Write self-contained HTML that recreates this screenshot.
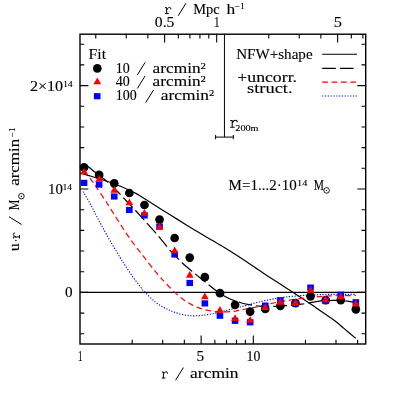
<!DOCTYPE html>
<html><head><meta charset="utf-8"><title>plot</title>
<style>html,body{margin:0;padding:0;background:#fff;}svg{display:block;}text{font-family:"Liberation Serif",serif;fill:#000;}</style>
</head><body>
<svg width="399" height="399" viewBox="0 0 399 399">
<rect x="0" y="0" width="399" height="399" fill="#fff"/>
<line x1="80.00" y1="292.40" x2="365.70" y2="292.40" stroke="#000" stroke-width="1.1"/>
<path d="M80.00 173.30 C80.67 173.45 81.50 173.50 84.00 174.20 C86.50 174.90 91.83 176.53 95.00 177.50 C98.17 178.47 100.50 179.20 103.00 180.00 C105.50 180.80 107.33 181.35 110.00 182.30 C112.67 183.25 116.50 184.72 119.00 185.70 C121.50 186.68 122.50 187.07 125.00 188.20 C127.50 189.33 131.58 191.28 134.00 192.50 C136.42 193.72 136.42 193.62 139.50 195.50 C142.58 197.38 147.40 200.58 152.50 203.80 C157.60 207.02 164.25 211.15 170.10 214.80 C175.95 218.45 183.45 223.13 187.60 225.70 C191.75 228.27 192.22 228.52 195.00 230.20 C197.78 231.88 201.38 234.08 204.30 235.80 C207.22 237.52 208.20 237.98 212.50 240.50 C216.80 243.02 224.25 247.25 230.10 250.90 C235.95 254.55 242.95 259.28 247.60 262.40 C252.25 265.52 255.22 267.70 258.00 269.60 C260.78 271.50 262.30 272.48 264.30 273.80 C266.30 275.12 266.53 275.27 270.00 277.50 C273.47 279.73 280.08 283.93 285.10 287.20 C290.12 290.47 295.22 293.87 300.10 297.10 C304.98 300.33 311.50 304.67 314.40 306.60 C317.30 308.53 314.05 306.32 317.50 308.70 C320.95 311.08 330.70 317.62 335.10 320.90 C339.50 324.18 340.45 325.48 343.90 328.40 C347.35 331.32 353.82 336.73 355.80 338.40" fill="none" stroke="#000" stroke-width="1.2"/>
<path d="M84.00 164.00 C84.67 164.43 86.13 165.22 88.00 166.60 C89.87 167.98 93.32 170.85 95.20 172.30 C97.08 173.75 98.62 174.80 99.30 175.30" fill="none" stroke="#000" stroke-width="1.2"/>
<path d="M99.30 175.30 C99.92 175.80 101.88 177.42 103.00 178.30 C104.12 179.18 104.50 179.32 106.00 180.60 C107.50 181.88 110.00 184.10 112.00 186.00 C114.00 187.90 116.17 190.12 118.00 192.00 C119.83 193.88 121.50 195.72 123.00 197.30 C124.50 198.88 124.92 199.30 127.00 201.50 C129.08 203.70 133.17 208.00 135.50 210.50 C137.83 213.00 139.15 214.45 141.00 216.50 C142.85 218.55 144.03 219.92 146.60 222.80 C149.17 225.68 153.67 230.65 156.40 233.80 C159.13 236.95 160.72 238.95 163.00 241.70 C165.28 244.45 166.87 246.75 170.10 250.30 C173.33 253.85 178.32 259.15 182.40 263.00 C186.48 266.85 190.87 270.30 194.60 273.40 C198.33 276.50 201.30 278.78 204.80 281.60 C208.30 284.42 211.73 287.57 215.60 290.30 C219.47 293.03 223.93 295.97 228.00 298.00 C232.07 300.03 236.23 301.35 240.00 302.50 C243.77 303.65 247.33 304.30 250.60 304.90 C253.87 305.50 255.87 305.85 259.60 306.10 C263.33 306.35 268.00 306.52 273.00 306.40 C278.00 306.28 284.83 305.77 289.60 305.40 C294.37 305.03 298.12 304.67 301.60 304.20 C305.08 303.73 307.27 303.15 310.50 302.60 C313.73 302.05 316.92 301.28 321.00 300.90 C325.08 300.52 330.60 300.25 335.00 300.30 C339.40 300.35 343.93 300.80 347.40 301.20 C350.87 301.60 354.40 302.45 355.80 302.70" fill="none" stroke="#000" stroke-width="1.2" stroke-dasharray="13.4 4.1" stroke-dashoffset="2.26"/>
<path d="M80.00 166.00 C80.67 166.80 82.47 168.93 84.00 170.80 C85.53 172.67 87.72 175.32 89.20 177.20 C90.68 179.08 91.85 180.63 92.90 182.10 C93.95 183.57 94.32 184.27 95.50 186.00 C96.68 187.73 98.42 190.17 100.00 192.50 C101.58 194.83 103.83 198.25 105.00 200.00 C106.17 201.75 105.73 201.00 107.00 203.00 C108.27 205.00 110.43 208.55 112.60 212.00 C114.77 215.45 117.50 219.82 120.00 223.70 C122.50 227.58 125.08 231.65 127.60 235.30 C130.12 238.95 133.15 242.98 135.10 245.60 C137.05 248.22 138.05 249.38 139.30 251.00 C140.55 252.62 141.22 253.52 142.60 255.30 C143.98 257.08 145.52 259.05 147.60 261.70 C149.68 264.35 153.03 268.67 155.10 271.20 C157.17 273.73 158.75 275.47 160.00 276.90 C161.25 278.33 161.35 278.45 162.60 279.80 C163.85 281.15 165.43 282.87 167.50 285.00 C169.57 287.13 172.48 290.27 175.00 292.60 C177.52 294.93 180.08 297.13 182.60 299.00 C185.12 300.87 187.60 302.40 190.10 303.80 C192.60 305.20 195.10 306.40 197.60 307.40 C200.10 308.40 202.60 309.17 205.10 309.80 C207.60 310.43 210.47 310.88 212.60 311.20 C214.73 311.52 216.33 311.58 217.90 311.70 C219.47 311.82 219.57 311.95 222.00 311.90 C224.43 311.85 229.50 311.68 232.50 311.40 C235.50 311.12 236.25 310.88 240.00 310.20 C243.75 309.52 250.00 308.37 255.00 307.30 C260.00 306.23 265.00 304.88 270.00 303.80 C275.00 302.72 280.00 301.67 285.00 300.80 C290.00 299.93 295.23 299.22 300.00 298.60 C304.77 297.98 308.60 297.55 313.60 297.10 C318.60 296.65 322.97 296.17 330.00 295.90 C337.03 295.63 351.50 295.57 355.80 295.50" fill="none" stroke="#ff0000" stroke-width="1.2" stroke-dasharray="5.8 3.6" stroke-dashoffset="3.4"/>
<path d="M83.50 192.30 C83.57 192.42 82.67 190.88 83.90 193.00 C85.13 195.12 88.62 200.83 90.90 205.00 C93.18 209.17 95.25 213.53 97.60 218.00 C99.95 222.47 102.50 227.28 105.00 231.80 C107.50 236.32 110.10 240.83 112.60 245.10 C115.10 249.37 117.93 254.03 120.00 257.40 C122.07 260.77 122.90 262.12 125.00 265.30 C127.10 268.48 130.08 272.97 132.60 276.50 C135.12 280.03 137.98 283.82 140.10 286.50 C142.22 289.18 142.80 290.03 145.30 292.60 C147.80 295.17 152.22 299.52 155.10 301.90 C157.98 304.28 160.22 305.52 162.60 306.90 C164.98 308.28 167.33 309.28 169.40 310.20 C171.47 311.12 172.80 311.67 175.00 312.40 C177.20 313.13 180.08 314.05 182.60 314.60 C185.12 315.15 187.60 315.52 190.10 315.70 C192.60 315.88 195.10 315.82 197.60 315.70 C200.10 315.58 202.60 315.33 205.10 315.00 C207.60 314.67 209.28 314.40 212.60 313.70 C215.92 313.00 220.43 311.92 225.00 310.80 C229.57 309.68 234.98 308.30 240.00 307.00 C245.02 305.70 250.93 304.07 255.10 303.00 C259.27 301.93 261.68 301.33 265.00 300.60 C268.32 299.87 271.67 299.18 275.00 298.60 C278.33 298.02 280.83 297.58 285.00 297.10 C289.17 296.62 295.23 296.05 300.00 295.70 C304.77 295.35 308.60 295.22 313.60 295.00 C318.60 294.78 322.97 294.52 330.00 294.40 C337.03 294.28 351.50 294.32 355.80 294.30" fill="none" stroke="#0000ff" stroke-width="1.15" stroke-dasharray="1.2 1.6"/>
<path d="M224.45 34.20 V137.1 M215.6 137.1 H233.3 M215.6 135 V139.3 M233.3 135 V139.3" fill="none" stroke="#000" stroke-width="1.0"/>
<line x1="322.2" y1="54.3" x2="357" y2="54.3" stroke="#000" stroke-width="1.1"/>
<line x1="322.2" y1="68.4" x2="357.8" y2="68.4" stroke="#000" stroke-width="1.1" stroke-dasharray="13.6 4.1"/>
<line x1="322.2" y1="82.1" x2="357" y2="82.1" stroke="#ff0000" stroke-width="1.1" stroke-dasharray="5.7 3.7"/>
<line x1="322.2" y1="96" x2="357" y2="96" stroke="#0000ff" stroke-width="1.15" stroke-dasharray="1.2 1.6"/>
<circle cx="84.05" cy="167.40" r="4.35" fill="#000"/>
<circle cx="99.15" cy="174.90" r="4.35" fill="#000"/>
<circle cx="114.25" cy="183.30" r="4.35" fill="#000"/>
<circle cx="129.35" cy="193.00" r="4.35" fill="#000"/>
<circle cx="144.45" cy="205.00" r="4.35" fill="#000"/>
<circle cx="159.55" cy="219.60" r="4.35" fill="#000"/>
<circle cx="174.65" cy="238.00" r="4.35" fill="#000"/>
<circle cx="189.75" cy="257.60" r="4.35" fill="#000"/>
<circle cx="204.85" cy="277.20" r="4.35" fill="#000"/>
<circle cx="219.95" cy="293.20" r="4.35" fill="#000"/>
<circle cx="235.05" cy="304.80" r="4.35" fill="#000"/>
<circle cx="250.15" cy="311.60" r="4.35" fill="#000"/>
<circle cx="265.25" cy="309.00" r="4.35" fill="#000"/>
<circle cx="280.35" cy="305.80" r="4.35" fill="#000"/>
<circle cx="295.45" cy="303.10" r="4.35" fill="#000"/>
<circle cx="310.55" cy="296.30" r="4.35" fill="#000"/>
<circle cx="325.65" cy="300.20" r="4.35" fill="#000"/>
<circle cx="340.75" cy="300.10" r="4.35" fill="#000"/>
<circle cx="355.85" cy="309.30" r="4.35" fill="#000"/>
<rect x="80.75" y="179.80" width="6.60" height="6.20" fill="#0000ff"/>
<rect x="95.85" y="181.50" width="6.60" height="6.20" fill="#0000ff"/>
<rect x="110.95" y="193.40" width="6.60" height="6.20" fill="#0000ff"/>
<rect x="126.05" y="206.90" width="6.60" height="6.20" fill="#0000ff"/>
<rect x="141.15" y="212.30" width="6.60" height="6.20" fill="#0000ff"/>
<rect x="156.25" y="223.50" width="6.60" height="6.20" fill="#0000ff"/>
<rect x="171.35" y="251.40" width="6.60" height="6.20" fill="#0000ff"/>
<rect x="186.45" y="279.90" width="6.60" height="6.20" fill="#0000ff"/>
<rect x="201.55" y="300.30" width="6.60" height="6.20" fill="#0000ff"/>
<rect x="216.65" y="312.60" width="6.60" height="6.20" fill="#0000ff"/>
<rect x="231.75" y="317.70" width="6.60" height="6.20" fill="#0000ff"/>
<rect x="246.85" y="319.20" width="6.60" height="6.20" fill="#0000ff"/>
<rect x="261.95" y="302.50" width="6.60" height="6.20" fill="#0000ff"/>
<rect x="277.05" y="297.20" width="6.60" height="6.20" fill="#0000ff"/>
<rect x="292.15" y="300.40" width="6.60" height="6.20" fill="#0000ff"/>
<rect x="307.25" y="284.50" width="6.60" height="6.20" fill="#0000ff"/>
<rect x="322.35" y="297.90" width="6.60" height="6.20" fill="#0000ff"/>
<rect x="337.45" y="291.60" width="6.60" height="6.20" fill="#0000ff"/>
<rect x="352.55" y="299.20" width="6.60" height="6.20" fill="#0000ff"/>
<path d="M84.05 167.40 L87.90 174.20 L80.20 174.20 Z" fill="#ff0000"/>
<path d="M99.15 175.00 L103.00 181.80 L95.30 181.80 Z" fill="#ff0000"/>
<path d="M114.25 186.00 L118.10 192.80 L110.40 192.80 Z" fill="#ff0000"/>
<path d="M129.35 198.40 L133.20 205.20 L125.50 205.20 Z" fill="#ff0000"/>
<path d="M144.45 209.00 L148.30 215.80 L140.60 215.80 Z" fill="#ff0000"/>
<path d="M159.55 222.70 L163.40 229.50 L155.70 229.50 Z" fill="#ff0000"/>
<path d="M174.65 246.40 L178.50 253.20 L170.80 253.20 Z" fill="#ff0000"/>
<path d="M189.75 271.00 L193.60 277.80 L185.90 277.80 Z" fill="#ff0000"/>
<path d="M204.85 292.40 L208.70 299.20 L201.00 299.20 Z" fill="#ff0000"/>
<path d="M219.95 306.00 L223.80 312.80 L216.10 312.80 Z" fill="#ff0000"/>
<path d="M235.05 314.20 L238.90 321.00 L231.20 321.00 Z" fill="#ff0000"/>
<path d="M250.15 316.00 L254.00 322.80 L246.30 322.80 Z" fill="#ff0000"/>
<path d="M265.25 303.30 L269.10 310.10 L261.40 310.10 Z" fill="#ff0000"/>
<path d="M280.35 298.00 L284.20 304.80 L276.50 304.80 Z" fill="#ff0000"/>
<path d="M295.45 298.60 L299.30 305.40 L291.60 305.40 Z" fill="#ff0000"/>
<path d="M310.55 286.00 L314.40 292.80 L306.70 292.80 Z" fill="#ff0000"/>
<path d="M325.65 295.40 L329.50 302.20 L321.80 302.20 Z" fill="#ff0000"/>
<path d="M340.75 292.40 L344.60 299.20 L336.90 299.20 Z" fill="#ff0000"/>
<path d="M355.85 299.80 L359.70 306.60 L352.00 306.60 Z" fill="#ff0000"/>
<circle cx="97.3" cy="68.4" r="4.35" fill="#000"/>
<path d="M97.3 77.6 L101.15 84.3 L93.45 84.3 Z" fill="#ff0000"/>
<rect x="93.90" y="93.1" width="6.6" height="6.2" fill="#0000ff"/>
<rect x="80.00" y="34.20" width="285.70" height="309.80" fill="none" stroke="#000" stroke-width="1.40"/>
<path d="M132.17 344.00 v-4.20 M162.69 344.00 v-4.20 M184.34 344.00 v-4.20 M214.85 344.00 v-4.20 M226.46 344.00 v-4.20 M236.51 344.00 v-4.20 M245.37 344.00 v-4.20 M305.47 344.00 v-4.20 M335.99 344.00 v-4.20 M357.64 344.00 v-4.20 M201.13 344.00 v-8.40 M253.30 344.00 v-8.40 M95.78 34.20 v4.20 M126.24 34.20 v4.20 M147.86 34.20 v4.20 M178.32 34.20 v4.20 M189.90 34.20 v4.20 M199.93 34.20 v4.20 M208.78 34.20 v4.20 M268.78 34.20 v4.20 M299.24 34.20 v4.20 M320.86 34.20 v4.20 M351.32 34.20 v4.20 M362.90 34.20 v4.20 M164.62 34.20 v8.40 M216.70 34.20 v8.40 M337.62 34.20 v8.40 M80.00 333.76 h4.20 M365.70 333.76 h-4.20 M80.00 313.08 h4.20 M365.70 313.08 h-4.20 M80.00 292.40 h8.40 M365.70 292.40 h-8.40 M80.00 271.72 h4.20 M365.70 271.72 h-4.20 M80.00 251.04 h4.20 M365.70 251.04 h-4.20 M80.00 230.36 h4.20 M365.70 230.36 h-4.20 M80.00 209.68 h4.20 M365.70 209.68 h-4.20 M80.00 189.00 h8.40 M365.70 189.00 h-8.40 M80.00 168.32 h4.20 M365.70 168.32 h-4.20 M80.00 147.64 h4.20 M365.70 147.64 h-4.20 M80.00 126.96 h4.20 M365.70 126.96 h-4.20 M80.00 106.28 h4.20 M365.70 106.28 h-4.20 M80.00 85.60 h8.40 M365.70 85.60 h-8.40 M80.00 64.92 h4.20 M365.70 64.92 h-4.20 M80.00 44.24 h4.20 M365.70 44.24 h-4.20" fill="none" stroke="#000" stroke-width="1.1"/>
<g style="filter:grayscale(1)">
<path d="M165.00 7.60 H166.67 V13.60 M165.00 13.60 H168.72 M166.67 10.13 C167.17 8.43 168.41 7.43 169.46 7.43 Q171.08 7.43 170.89 9.19" fill="none" stroke="#000" stroke-width="1.00" stroke-linejoin="round"/>
<text x="193.20" y="13.70" font-size="14.00" textLength="26.40" lengthAdjust="spacingAndGlyphs" stroke="#000" stroke-width="0.12">Mpc</text>
<text x="226.60" y="13.70" font-size="14.00" textLength="8.70" lengthAdjust="spacingAndGlyphs" stroke="#000" stroke-width="0.12">h</text>
<text x="234.80" y="9.20" font-size="8.50" textLength="9.90" lengthAdjust="spacingAndGlyphs" stroke="#000" stroke-width="0.12">&#8722;1</text>
<text x="154.80" y="27.20" font-size="14.00" textLength="19.60" lengthAdjust="spacingAndGlyphs" stroke="#000" stroke-width="0.12">0.5</text>
<text x="214.00" y="27.20" font-size="14.00" textLength="5.60" lengthAdjust="spacingAndGlyphs" stroke="#000" stroke-width="0.12">1</text>
<text x="333.80" y="27.20" font-size="14.00" textLength="8.20" lengthAdjust="spacingAndGlyphs" stroke="#000" stroke-width="0.12">5</text>
<text x="88.60" y="59.00" font-size="14.00" textLength="17.50" lengthAdjust="spacingAndGlyphs" stroke="#000" stroke-width="0.12">Fit</text>
<text x="115.80" y="72.80" font-size="14.00" textLength="14.00" lengthAdjust="spacingAndGlyphs" stroke="#000" stroke-width="0.12">10</text>
<text x="152.60" y="72.80" font-size="14.00" textLength="48.00" lengthAdjust="spacingAndGlyphs" stroke="#000" stroke-width="0.12">arcmin</text>
<text x="200.60" y="68.50" font-size="8.00" textLength="5.40" lengthAdjust="spacingAndGlyphs" stroke="#000" stroke-width="0.12">2</text>
<text x="115.80" y="86.30" font-size="14.00" textLength="14.00" lengthAdjust="spacingAndGlyphs" stroke="#000" stroke-width="0.12">40</text>
<text x="152.60" y="86.30" font-size="14.00" textLength="48.00" lengthAdjust="spacingAndGlyphs" stroke="#000" stroke-width="0.12">arcmin</text>
<text x="200.60" y="82.00" font-size="8.00" textLength="5.40" lengthAdjust="spacingAndGlyphs" stroke="#000" stroke-width="0.12">2</text>
<text x="115.80" y="100.40" font-size="14.00" textLength="21.00" lengthAdjust="spacingAndGlyphs" stroke="#000" stroke-width="0.12">100</text>
<text x="160.70" y="100.40" font-size="14.00" textLength="48.30" lengthAdjust="spacingAndGlyphs" stroke="#000" stroke-width="0.12">arcmin</text>
<text x="209.00" y="96.10" font-size="8.00" textLength="5.30" lengthAdjust="spacingAndGlyphs" stroke="#000" stroke-width="0.12">2</text>
<text x="236.20" y="58.80" font-size="14.00" textLength="76.40" lengthAdjust="spacingAndGlyphs" stroke="#000" stroke-width="0.12">NFW+shape</text>
<text x="237.30" y="82.40" font-size="14.00" textLength="59.70" lengthAdjust="spacingAndGlyphs" stroke="#000" stroke-width="0.12">+uncorr.</text>
<text x="247.10" y="92.60" font-size="14.00" textLength="45.50" lengthAdjust="spacingAndGlyphs" stroke="#000" stroke-width="0.12">struct.</text>
<path d="M230.20 120.50 H232.20 V127.20 M230.20 127.20 H234.64 M232.20 123.35 C232.79 121.46 234.27 120.34 235.53 120.34 Q237.45 120.34 237.23 122.30" fill="none" stroke="#000" stroke-width="1.05" stroke-linejoin="round"/>
<text x="235.30" y="131.20" font-size="8.00" textLength="23.20" lengthAdjust="spacingAndGlyphs" stroke="#000" stroke-width="0.12">200m</text>
<text x="228.60" y="189.50" font-size="14.00" textLength="68.10" lengthAdjust="spacingAndGlyphs" stroke="#000" stroke-width="0.12">M=1...2&#183;10</text>
<text x="297.00" y="185.60" font-size="8.50" textLength="10.30" lengthAdjust="spacingAndGlyphs" stroke="#000" stroke-width="0.12">14</text>
<text x="313.80" y="189.50" font-size="14.00" textLength="10.20" lengthAdjust="spacingAndGlyphs" stroke="#000" stroke-width="0.12">M</text>
<circle cx="326.60" cy="190.40" r="2.80" fill="none" stroke="#000" stroke-width="0.9"/><circle cx="326.60" cy="190.40" r="0.7" fill="#000"/>
<text x="29.90" y="90.90" font-size="14.00" textLength="33.30" lengthAdjust="spacingAndGlyphs" stroke="#000" stroke-width="0.12">2&#215;10</text>
<text x="62.90" y="86.80" font-size="8.50" textLength="9.90" lengthAdjust="spacingAndGlyphs" stroke="#000" stroke-width="0.12">14</text>
<text x="48.10" y="194.00" font-size="14.00" textLength="14.80" lengthAdjust="spacingAndGlyphs" stroke="#000" stroke-width="0.12">10</text>
<text x="62.60" y="189.90" font-size="8.50" textLength="9.50" lengthAdjust="spacingAndGlyphs" stroke="#000" stroke-width="0.12">14</text>
<text x="64.90" y="296.90" font-size="14.00" textLength="7.60" lengthAdjust="spacingAndGlyphs" stroke="#000" stroke-width="0.12">0</text>
<text x="77.90" y="360.50" font-size="14.00" textLength="4.50" lengthAdjust="spacingAndGlyphs" stroke="#000" stroke-width="0.12">1</text>
<text x="196.60" y="360.50" font-size="14.00" textLength="7.60" lengthAdjust="spacingAndGlyphs" stroke="#000" stroke-width="0.12">5</text>
<text x="246.60" y="360.50" font-size="14.00" textLength="13.80" lengthAdjust="spacingAndGlyphs" stroke="#000" stroke-width="0.12">10</text>
<path d="M161.80 372.00 H163.42 V378.00 M161.80 378.00 H165.40 M163.42 374.53 C163.90 372.83 165.10 371.83 166.12 371.83 Q167.68 371.83 167.50 373.59" fill="none" stroke="#000" stroke-width="1.00" stroke-linejoin="round"/>
<text x="190.10" y="377.80" font-size="14.00" textLength="48.50" lengthAdjust="spacingAndGlyphs" stroke="#000" stroke-width="0.12">arcmin</text>
<path d="M178.20 15.80 L186.00 3.20 M137.30 75.00 L145.10 62.40 M137.30 88.50 L145.10 75.90 M145.70 102.60 L153.50 90.00 M175.60 380.20 L183.40 367.60" fill="none" stroke="#000" stroke-width="1"/>
<g transform="translate(19.2,0) rotate(-90)">
<text x="-251.20" y="0.20" font-size="14.00" textLength="7.90" lengthAdjust="spacingAndGlyphs" stroke="#000" stroke-width="0.12">u</text>
<circle cx="-240.6" cy="-3.3" r="0.75" fill="#000"/>
<path d="M-238.50 -5.70 H-236.93 V0.30 M-238.50 0.30 H-235.02 M-236.93 -3.17 C-236.47 -4.87 -235.31 -5.87 -234.32 -5.87 Q-232.82 -5.87 -232.99 -4.11" fill="none" stroke="#000" stroke-width="1.00" stroke-linejoin="round"/>
<text x="-210.30" y="0.20" font-size="14.00" textLength="10.50" lengthAdjust="spacingAndGlyphs" stroke="#000" stroke-width="0.12">M</text>
<text x="-185.80" y="0.20" font-size="14.00" textLength="47.00" lengthAdjust="spacingAndGlyphs" stroke="#000" stroke-width="0.12">arcmin</text>
<text x="-137.30" y="-4.20" font-size="8.00" textLength="9.80" lengthAdjust="spacingAndGlyphs" stroke="#000" stroke-width="0.12">&#8722;1</text>
<path d="M-224.50 2.40 L-216.70 -10.20" fill="none" stroke="#000" stroke-width="1"/>
</g>
<circle cx="21.40" cy="196.20" r="2.80" fill="none" stroke="#000" stroke-width="0.9"/><circle cx="21.40" cy="196.20" r="0.7" fill="#000"/>
</g>
</svg></body></html>
